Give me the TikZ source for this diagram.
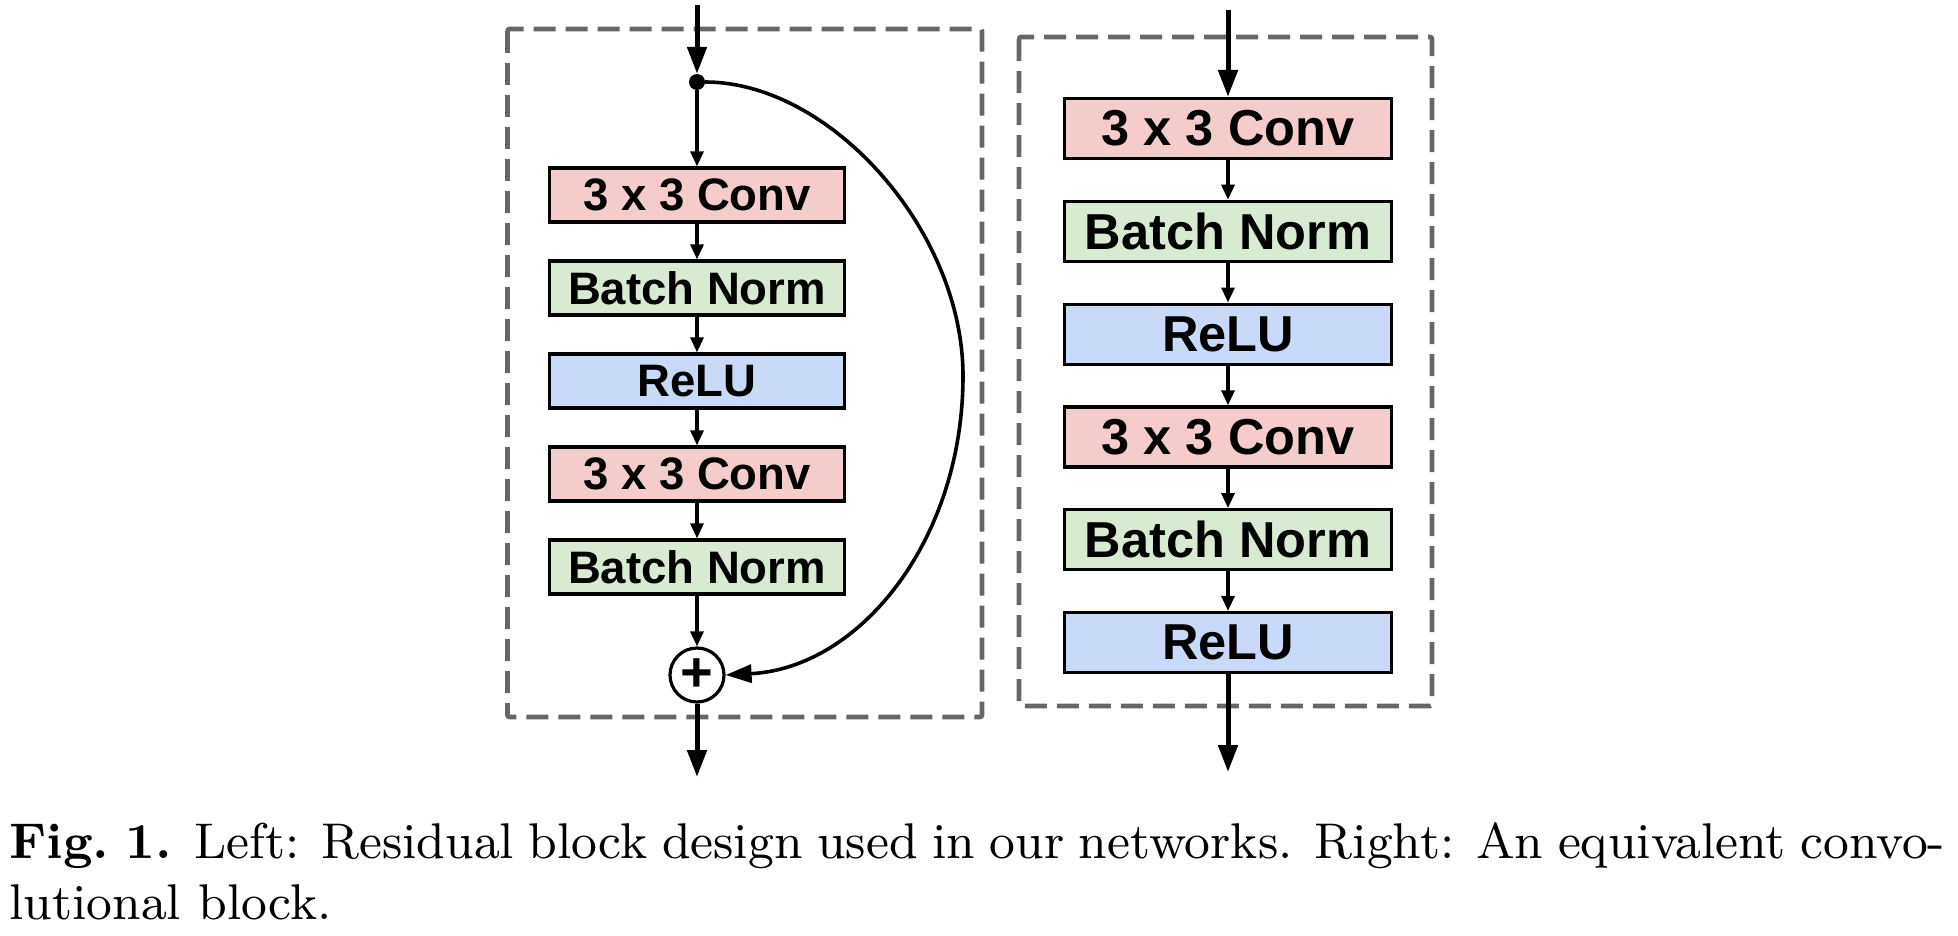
\documentclass[tikz,border=0pt]{standalone}
\usepackage{fontspec}
\usepackage{graphicx}
\usetikzlibrary{arrows.meta}
\newfontfamily\boxfont{Liberation Sans}
\definecolor{convc}{HTML}{F4CCCC}
\definecolor{bnc}{HTML}{D9EAD3}
\definecolor{reluc}{HTML}{C9DAF8}
\definecolor{dgray}{HTML}{666666}
\begin{document}
\begin{tikzpicture}[x=1pt,y=-1pt,
  blk/.style={draw=black, line width=3.2pt, inner sep=0pt},
  lblk/.style={blk, minimum width=295pt, minimum height=54pt, font=\boxfont\bfseries\fontsize{45.5}{54}\selectfont},
  rblk/.style={blk, minimum width=327pt, minimum height=60pt, font=\boxfont\bfseries\fontsize{50.5}{60}\selectfont},
  conv/.style={fill=convc}, bn/.style={fill=bnc}, relu/.style={fill=reluc},
  sarrow/.style={line width=3.2pt, -{Triangle[length=15pt,width=13pt]}},
  barrow/.style={line width=5pt, -{Triangle[length=27pt,width=19pt]}},
  carrow/.style={line width=3.6pt, -{Triangle[length=26pt,width=18pt]}},
  dbox/.style={draw=dgray, line width=4.6pt, dash pattern=on 22pt off 10pt, rounded corners=2pt}]
\useasboundingbox (0,0) rectangle (1958,936);

% dashed frames
\draw[dbox] (507.5,29) rectangle (982,717);
\draw[dbox] (1019,37) rectangle (1432,706);

% left column
\node[circle, fill=black, minimum size=16pt, inner sep=0pt] (dot) at (697,82) {};
\node[lblk, conv] (l1) at (697,195) {3 x 3 Conv};
\node[lblk, bn]   (l2) at (697,288) {Batch Norm};
\node[lblk, relu] (l3) at (697,381) {ReLU};
\node[lblk, conv] (l4) at (697,474) {3 x 3 Conv};
\node[lblk, bn]   (l5) at (697,567) {Batch Norm};
\node[circle, draw=black, line width=3.2pt, minimum size=54pt, inner sep=0pt,
      font=\boxfont\bfseries\fontsize{56}{56}\selectfont] (plus) at (697,675) {+};
\coordinate (lin) at (697,5);
\coordinate (lout) at (697,777);

\draw[barrow] (lin) -- (dot.north);
\draw[sarrow] (dot) -- (l1);
\draw[sarrow] (l1) -- (l2);
\draw[sarrow] (l2) -- (l3);
\draw[sarrow] (l3) -- (l4);
\draw[sarrow] (l4) -- (l5);
\draw[sarrow] (l5) -- (plus);
\draw[barrow] (plus) -- (lout);
\draw[carrow] (dot.east) .. controls (830,82) and (963,230) .. (963,376)
      .. controls (963,540) and (860,668) .. (plus.east);

% right column
\node[rblk, conv] (r1) at (1228,128.5) {3 x 3 Conv};
\node[rblk, bn]   (r2) at (1228,231.3) {Batch Norm};
\node[rblk, relu] (r3) at (1228,334.1) {ReLU};
\node[rblk, conv] (r4) at (1228,436.9) {3 x 3 Conv};
\node[rblk, bn]   (r5) at (1228,539.7) {Batch Norm};
\node[rblk, relu] (r6) at (1228,642.5) {ReLU};
\coordinate (rin) at (1228,10);
\coordinate (rout) at (1228,772);

\draw[barrow] (rin) -- (r1);
\draw[sarrow] (r1) -- (r2);
\draw[sarrow] (r2) -- (r3);
\draw[sarrow] (r3) -- (r4);
\draw[sarrow] (r4) -- (r5);
\draw[sarrow] (r5) -- (r6);
\draw[barrow] (r6) -- (rout);

% caption
\node[anchor=base west, inner sep=0pt] (cap) at (9,858)
  {\scalebox{5.577}{\parbox[t]{347.12pt}{\small\textbf{Fig.~1.} Left: Residual block design used in our networks. Right: An equivalent convo-\linebreak lutional block.}}};
\end{tikzpicture}
\end{document}
